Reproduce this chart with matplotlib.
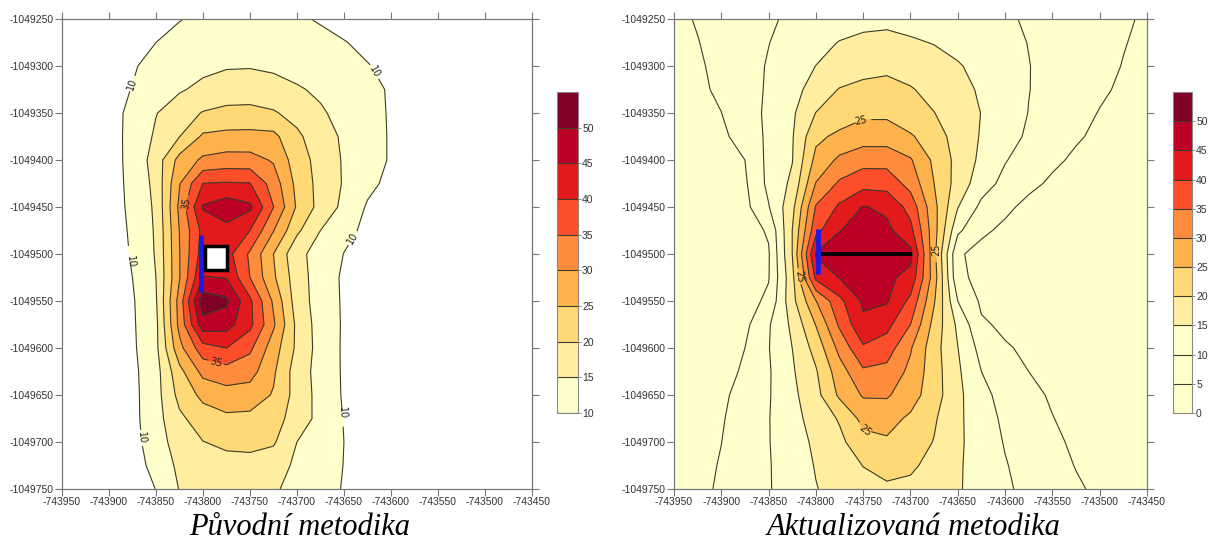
import numpy as np
import matplotlib
matplotlib.use('Agg')
import matplotlib.pyplot as plt
from matplotlib.patches import Rectangle

# grid nodes (m), shared by both maps
grid_x = [-743950, -743925, -743900, -743875, -743850, -743825, -743800,
          -743775, -743750, -743725, -743700, -743675, -743650, -743625,
          -743600, -743575, -743550, -743525, -743500, -743475, -743450]
grid_y = [-1049250, -1049275, -1049300, -1049325, -1049350, -1049375,
          -1049400, -1049425, -1049450, -1049475, -1049500, -1049525,
          -1049550, -1049575, -1049600, -1049625, -1049650, -1049675,
          -1049700, -1049725, -1049750]

# values (rows from top to bottom)
z_original = [
    [1, 3, 5, 6.5, 8, 9.8, 11, 12, 12, 11.3, 10.6, 9.6, 8.5, 7, 6, 5, 4, 3, 2, 1, 0],
    [4, 6, 7.5, 9, 10, 11.5, 12.7, 13.4, 13.5, 13, 12.2, 11.2, 10.2, 9, 8, 7, 6, 5, 4, 3, 2],
    [5, 7, 8.5, 9.7, 11, 12.5, 13.8, 14.6, 14.7, 14.2, 13.3, 12.2, 11.2, 10.2, 9, 8, 7, 6, 5, 4, 3],
    [6, 7.5, 9, 10.1, 12.3, 14.5, 16.2, 17.3, 17.5, 16.8, 15.5, 14.2, 12.6, 11.1, 9.6, 8.5, 7.5, 6.5, 5.5, 4.5, 3.5],
    [5.5, 7, 8.8, 10.8, 14.8, 17.7, 20.3, 21.3, 21.4, 20.5, 18.3, 15.6, 13.5, 11.5, 9.6, 8.3, 7.2, 6.2, 5.2, 4.2, 3.2],
    [5, 6.5, 8.5, 11.1, 15.8, 19.9, 25.8, 26.4, 26.5, 26.3, 21, 17.1, 14.3, 11.9, 9.6, 8.2, 7, 6, 5, 4, 3],
    [5, 6.5, 8.3, 11.2, 17.3, 26.7, 30.9, 31.9, 31.8, 29.5, 22.4, 18.2, 14.5, 11.9, 9.6, 8.2, 7, 6, 5, 4, 3],
    [5, 6.5, 8.5, 10.9, 16.5, 29.7, 40.1, 40.5, 40.2, 32.7, 23.6, 18.3, 14.6, 11.2, 8.8, 7.5, 6.5, 5.5, 4.5, 3.5, 2.5],
    [5, 6.5, 8.3, 10.8, 15.9, 31.1, 45.5, 48, 46, 35.1, 24.4, 18.3, 13.8, 9.5, 7.8, 6.8, 6, 5, 4, 3, 2],
    [5, 6.5, 8.3, 10.5, 15.6, 30.1, 41.5, 43.5, 40, 30.2, 21, 15, 11.3, 9, 7.5, 6.5, 5.8, 5, 4, 3, 2],
    [5, 6.5, 8.2, 10.3, 15.4, 29.8, 42.5, 42, 34.2, 25, 16.2, 13.3, 9.9, 8.5, 7.3, 6.3, 5.6, 4.8, 4, 3, 2],
    [5, 6.3, 8, 10, 15, 29.7, 45.2, 44.8, 35, 25.8, 17.3, 12.6, 9.3, 8.2, 7.1, 6.2, 5.5, 4.7, 4, 3, 2],
    [4.8, 6.2, 7.8, 9.5, 14.5, 32, 53, 51, 41, 29.2, 17.5, 12.8, 9.4, 8.2, 7.1, 6.2, 5.5, 4.7, 4, 3, 2],
    [4.7, 6.1, 7.7, 9.4, 13.8, 31.5, 48, 47, 41.3, 30.8, 18.8, 12.8, 9.5, 8.3, 7.2, 6.3, 5.5, 4.7, 4, 3, 2],
    [4.6, 6, 7.6, 9.2, 13.8, 28.5, 38, 40, 36, 27.4, 19, 13, 9.4, 8.3, 7.2, 6.3, 5.5, 4.7, 4, 3, 2],
    [4.5, 6, 7.5, 8.9, 13.1, 23.5, 31.5, 33, 32, 25.8, 17.5, 13.2, 9.4, 8.3, 7.2, 6.3, 5.5, 4.7, 4, 3, 2],
    [4.5, 5.9, 7.4, 8.7, 13.1, 21.5, 26.3, 28, 27.6, 24.6, 18, 13.3, 9.5, 8.4, 7.3, 6.3, 5.5, 4.7, 4, 3, 2],
    [4.5, 5.9, 7.3, 8.6, 13.1, 19, 22.5, 24, 23.8, 22.3, 17.5, 13.6, 9.8, 8.5, 7.4, 6.4, 5.6, 4.8, 4, 3, 2],
    [4.4, 5.8, 7, 8.2, 12.8, 17.2, 19.9, 20.9, 21.2, 20.6, 15, 12.5, 10, 8.6, 7.5, 6.5, 5.6, 4.8, 4, 3, 2],
    [4.2, 5.5, 6.5, 7.5, 11.8, 16, 17.8, 18.5, 18.5, 17.2, 14.1, 12.3, 9.9, 8.6, 7.5, 6.5, 5.6, 4.8, 4, 3, 2],
    [4, 5, 6, 6.8, 10.1, 15.2, 16.5, 17, 16.8, 15.6, 13.5, 11.8, 9.7, 8.5, 7.4, 6.4, 5.6, 4.8, 4, 3, 2],
]

# values (rows from top to bottom)
z_updated = [
    [3.9, 5.33, 6.7, 8.1, 9.5, 10.65, 11.7, 12.7, 13.7, 14, 13.3, 12.6, 11.9, 11.2, 10.45, 9.63, 8.6, 7.6, 6.55, 5.5, 4.5],
    [3.5, 4.85, 6.5, 8.2, 9.9, 11.7, 13.5, 15.2, 16, 16.2, 15.6, 14.8, 13.6, 12.3, 11.1, 9.9, 8.7, 7.6, 6.4, 5.2, 4.1],
    [3.2, 4.4, 6.2, 8.3, 10.35, 12.7, 15.05, 16.3, 17.6, 18.4, 17.8, 16.8, 15.4, 13.6, 11.9, 10.1, 8.8, 7.5, 6.2, 4.85, 3.6],
    [2.9, 4.1, 5.8, 7.8, 10.65, 13.5, 16.8, 20.3, 21.8, 22.3, 20.4, 18.4, 16.5, 14.4, 12.3, 10.1, 8.6, 7.1, 5.7, 4.3, 3.1],
    [2.6, 3.5, 4.95, 7.9, 10.9, 14.2, 20.1, 22, 24, 24, 21.7, 20.1, 17.5, 14.9, 12.4, 9.9, 8.2, 6.5, 4.8, 3.8, 2.8],
    [2.3, 3.1, 4.1, 6.8, 11, 14.6, 23.8, 26.2, 27.6, 27.6, 25.6, 22.2, 18.1, 14.6, 11.8, 9.3, 7.3, 5.4, 4.3, 3.3, 2.5],
    [2, 2.6, 3.5, 5, 11.3, 14.8, 26.5, 31, 33.2, 33.2, 30.5, 24, 18.5, 13.9, 10.3, 7.7, 5.7, 4.4, 3.5, 2.7, 2],
    [1.8, 2.3, 3, 4.3, 11.2, 16, 30.2, 35.8, 38.2, 38, 33.2, 25, 18, 12.2, 8.6, 5.9, 4.4, 3.6, 2.9, 2.3, 1.8],
    [1.6, 2, 2.6, 3.6, 9.7, 18.5, 35.4, 40.8, 45.3, 44, 38.2, 26.5, 15.2, 8.8, 5.8, 4, 3.3, 2.7, 2.2, 1.8, 1.5],
    [1.4, 1.7, 2.2, 2.6, 5.6, 20, 38.5, 44.8, 47, 46.2, 41.5, 27, 11, 5.7, 4.2, 3.3, 2.7, 2.3, 1.9, 1.6, 1.3],
    [1.2, 1.5, 1.9, 2.6, 4.5, 20, 45.5, 48.5, 49, 48.5, 46.5, 26.5, 5.5, 3.8, 3, 2.5, 2.1, 1.8, 1.6, 1.4, 1.2],
    [1.2, 1.5, 2, 2.8, 4.7, 18.5, 41.2, 45.2, 47, 46, 43.5, 27.5, 6, 3.8, 3.2, 2.6, 2.2, 1.9, 1.6, 1.4, 1.2],
    [1.3, 1.6, 2.2, 3, 6, 18.4, 29.8, 38.7, 45.8, 45.5, 38.8, 25.5, 10, 4.2, 3.4, 2.8, 2.3, 2, 1.7, 1.5, 1.3],
    [1.4, 1.8, 2.5, 3.8, 9.5, 16, 25.2, 35.8, 44, 41.5, 35, 23.3, 14, 5.6, 4.2, 3.4, 2.8, 2.3, 1.9, 1.6, 1.4],
    [1.6, 2.1, 3, 5, 9.8, 15, 21.8, 31.5, 39.3, 37.5, 30.5, 22, 15.1, 8.3, 5.4, 4.3, 3.5, 2.9, 2.4, 2, 1.7],
    [1.8, 2.4, 3.5, 5.6, 9.5, 14.4, 19.5, 27.8, 34.2, 33.5, 28.8, 22.2, 15.8, 10, 7.4, 5, 4, 3.3, 2.7, 2.2, 1.9],
    [2, 2.8, 4.2, 6.5, 9.6, 13.8, 18.4, 25.9, 30.5, 30.6, 27.2, 22.2, 16.2, 11.3, 8.4, 5.9, 4.6, 3.7, 3, 2.5, 2.1],
    [2.2, 3.1, 4.6, 7.1, 9.8, 13.4, 16.9, 20.5, 26.5, 26.7, 24.2, 20.6, 16, 12.1, 9.1, 7.1, 5.1, 4, 3.2, 2.7, 2.3],
    [2.4, 3.4, 4.95, 7.3, 9.8, 12.8, 15.9, 18.8, 23.3, 24.4, 22.5, 19.8, 15.9, 12.6, 9.7, 7.7, 5.7, 4.4, 3.5, 2.9, 2.5],
    [2.6, 3.7, 5.3, 7.5, 9.7, 12.3, 15.3, 17.6, 20.1, 21.4, 20.7, 18.7, 15.6, 12.9, 10.3, 8.2, 6.4, 4.85, 3.8, 3.1, 2.6],
    [2.8, 4, 5.55, 7.6, 9.7, 12, 14.8, 16.7, 18.4, 19.3, 19, 17.7, 15.5, 13, 10.7, 8.8, 7.1, 5.5, 4.3, 3.4, 2.8],
]

levels_original = [10, 15, 20, 25, 30, 35, 40, 45, 50, 55]
levels_updated = [0, 5, 10, 15, 20, 25, 30, 35, 40, 45, 50, 55]
ticks_original = [10, 15, 20, 25, 30, 35, 40, 45, 50]
ticks_updated = [0, 5, 10, 15, 20, 25, 30, 35, 40, 45, 50]

x_ticks = [-743950, -743900, -743850, -743800, -743750, -743700,
           -743650, -743600, -743550, -743500, -743450]
y_ticks = [-1049250, -1049300, -1049350, -1049400, -1049450, -1049500,
           -1049550, -1049600, -1049650, -1049700, -1049750]

# objects drawn on the maps
well_x = [-743802, -743802]
well_y = [-1049480, -1049540]
building = [-743798, -1049517, 24, 26]          # x, y, width, height
well2_x = [-743798, -743798]
well2_y = [-1049473, -1049521]
road_x = [-743798, -743700]
road_y = [-1049500, -1049500]

# contour label anchors
labels_original = [(-743875, -1049320), (-743875, -1049508), (-743869, -1049696),
                   (-743614, -1049304), (-743641, -1049483), (-743649, -1049669),
                   (-743817, -1049446), (-743786, -1049615)]
labels_updated = [(-743751, -1049361), (-743819, -1049524),
                  (-743672, -1049496), (-743750, -1049695)]

titles = ['Původní metodika', 'Aktualizovaná metodika']

ylorrd = ['#ffffcc', '#ffeda0', '#fed976', '#feb24c', '#fd8d3c',
          '#fc4e2a', '#e31a1c', '#bd0026', '#800026']
colors_updated = ['#ffffcc', '#ffffcc'] + ylorrd
line_col = '#3c3c2c'
tick_col = '#333333'


def style_axes(ax):
    ax.set_xlim(-743950, -743450)
    ax.set_ylim(-1049750, -1049250)
    ax.set_xticks(x_ticks, labels=[str(v) for v in x_ticks])
    ax.set_yticks(y_ticks, labels=[str(v) for v in y_ticks])
    ax.tick_params(axis='both', which='both', direction='out', length=5,
                   width=0.8, color='#777777', labelsize=7.5,
                   labelcolor=tick_col, top=True, right=True, pad=1)
    for lab in ax.get_xticklabels() + ax.get_yticklabels():
        lab.set_family('Liberation Sans')
    for sp in ax.spines.values():
        sp.set_color('#777777')
        sp.set_linewidth(0.9)


def style_cbar(cb):
    cb.outline.set_edgecolor('#888888')
    cb.outline.set_linewidth(0.8)
    cb.ax.tick_params(length=2, width=0.6, color='#777777', labelsize=7.5,
                      labelcolor=tick_col, pad=1)
    for lab in cb.ax.get_yticklabels():
        lab.set_family('Liberation Sans')


fig = plt.figure(figsize=(12.15, 5.52), dpi=100)

# ---- left map
ax1 = fig.add_axes([0.0510, 0.1141, 0.3868, 0.8514])
cf1 = ax1.contourf(grid_x, grid_y, z_original, levels=levels_original, colors=ylorrd)
cl1 = ax1.contour(grid_x, grid_y, z_original, levels=levels_original[:-1],
                  colors=line_col, linewidths=0.8)
ax1.clabel(cl1, fmt='%d', fontsize=7, colors='#222222', inline=True,
           inline_spacing=2, manual=labels_original)
ax1.plot(well_x, well_y, color='#1a1ae6', lw=3.5, solid_capstyle='butt', zorder=5)
ax1.add_patch(Rectangle((building[0], building[1]), building[2], building[3],
                        facecolor='white', edgecolor='black', lw=2.5, zorder=6))
style_axes(ax1)

cax1 = fig.add_axes([0.4584, 0.2518, 0.0173, 0.5815])
cb1 = fig.colorbar(cf1, cax=cax1, ticks=ticks_original)
cb1.add_lines(cl1)
style_cbar(cb1)

# ---- right map
ax2 = fig.add_axes([0.5547, 0.1141, 0.3893, 0.8514])
cf2 = ax2.contourf(grid_x, grid_y, z_updated, levels=levels_updated, colors=colors_updated)
cl2 = ax2.contour(grid_x, grid_y, z_updated, levels=levels_updated[1:-1],
                  colors=line_col, linewidths=0.8)
ax2.clabel(cl2, fmt='%d', fontsize=7, colors='#222222', inline=True,
           inline_spacing=2, manual=labels_updated)
ax2.plot(road_x, road_y, color='black', lw=2.8, zorder=5)
ax2.plot(well2_x, well2_y, color='#1a1ae6', lw=3.5, solid_capstyle='butt', zorder=6)
style_axes(ax2)

cax2 = fig.add_axes([0.9654, 0.2518, 0.0156, 0.5815])
cb2 = fig.colorbar(cf2, cax=cax2, ticks=ticks_updated)
cb2.add_lines(cl2)
style_cbar(cb2)

fig.text(0.247, 0.03, titles[0], family='Liberation Serif', style='italic',
         fontsize=22, ha='center', va='baseline')
fig.text(0.752, 0.03, titles[1], family='Liberation Serif', style='italic',
         fontsize=22, ha='center', va='baseline')

fig.savefig('out.png', dpi=100)
